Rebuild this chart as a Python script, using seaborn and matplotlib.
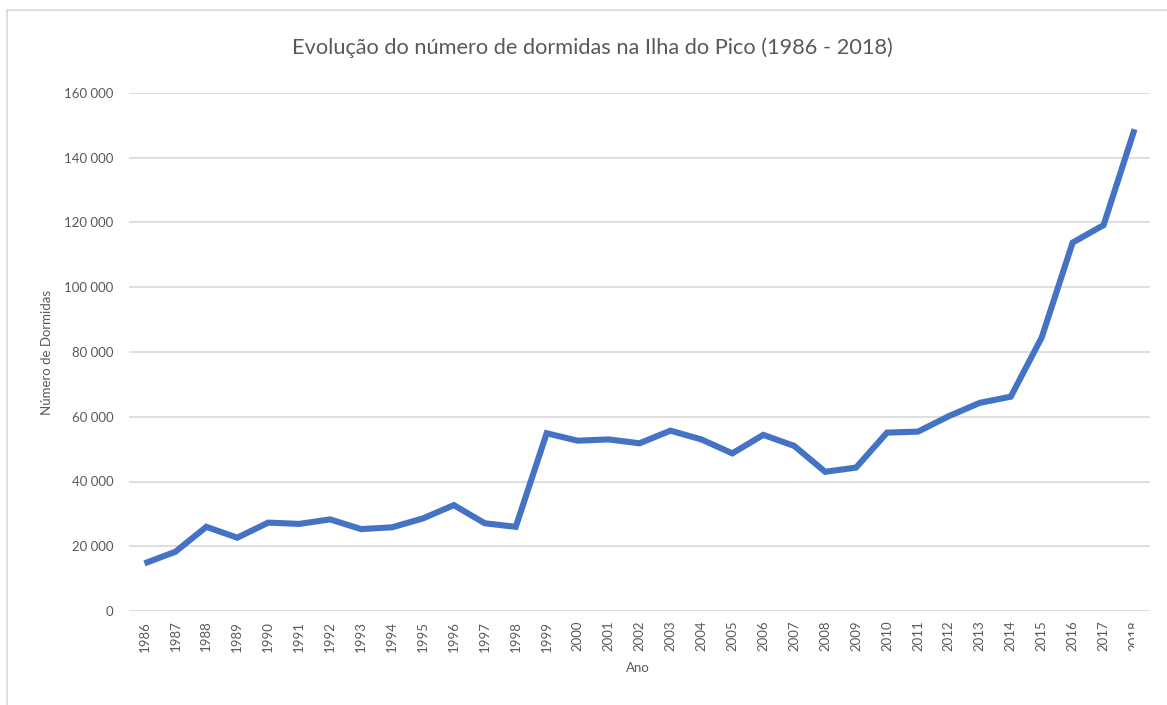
import pandas as pd
import matplotlib.pyplot as plt
import seaborn as sns
from matplotlib.patches import Rectangle
from matplotlib.ticker import FuncFormatter

sns.set_style("white")
plt.rcParams["font.family"] = ["Lato", "DejaVu Sans"]

# Dados: dormidas por ano na Ilha do Pico
anos = list(range(1986, 2019))
dormidas = [14700, 18300, 26000, 22650, 27300, 26900, 28300, 25300, 25850, 28600,
            32700, 27100, 26000, 54900, 52600, 53000, 51800, 55700, 53000, 48700,
            54400, 51000, 43000, 44300, 55100, 55400, 60200, 64300, 66200, 84500,
            113800, 119200, 148800]
y_ticks = [0, 20000, 40000, 60000, 80000, 100000, 120000, 140000, 160000]

df = pd.DataFrame({"Ano": anos, "Dormidas": dormidas})

W, H = 1167, 705
fig = plt.figure(figsize=(W / 100, H / 100), dpi=100)
ax = fig.add_axes([129 / W, 1 - 611 / H, (1150 - 129) / W, (611 - 93) / H])

grey = "#595959"
sns.lineplot(data=df, x="Ano", y="Dormidas", ax=ax, color="#4472C4", linewidth=4.4,
             solid_capstyle="butt", solid_joinstyle="miter")

ax.set_xlim(anos[0] - 0.5, anos[-1] + 0.5)
ax.set_ylim(0, 160000)
ax.set_yticks(y_ticks)
ax.yaxis.set_major_formatter(FuncFormatter(lambda v, p: f"{int(v):,}".replace(",", " ")))
ax.set_xticks(anos)
ax.set_xticklabels([str(a) for a in anos], rotation=90)

ax.grid(axis="y", color="#d9d9d9", linewidth=1.2)
ax.set_axisbelow(True)
for s in ax.spines.values():
    s.set_visible(False)
ax.tick_params(axis="both", length=0, colors=grey, labelsize=9.5)
ax.tick_params(axis="y", pad=11)
ax.tick_params(axis="x", pad=7)

ax.set_xlabel("Ano", color=grey, fontsize=9.5)
ax.set_ylabel("Número de Dormidas", color=grey, fontsize=9.5)
ax.xaxis.set_label_coords((638 - 129) / (1150 - 129), -(662 - 611) / (611 - 93))
ax.yaxis.set_label_coords(-(129 - 53) / (1150 - 129), 0.5)

fig.text(592 / W, 1 - 48 / H, "Evolução do número de dormidas na Ilha do Pico (1986 - 2018)",
         ha="center", va="center", color=grey, fontsize=15.7)

# moldura do gráfico
fig.add_artist(Rectangle((7 / W, -0.1), 1.2, 1 - 10 / H + 0.1, transform=fig.transFigure,
                         fill=False, edgecolor="#d9d9d9", linewidth=1.2))

# último rótulo cortado na margem, como no original
fig.add_artist(Rectangle((1134 / W, 1 - 660 / H), (W - 1134) / W, 45 / H,
                         transform=fig.transFigure, facecolor="white",
                         edgecolor="none", zorder=10))

fig.savefig("out.png", dpi=100)
